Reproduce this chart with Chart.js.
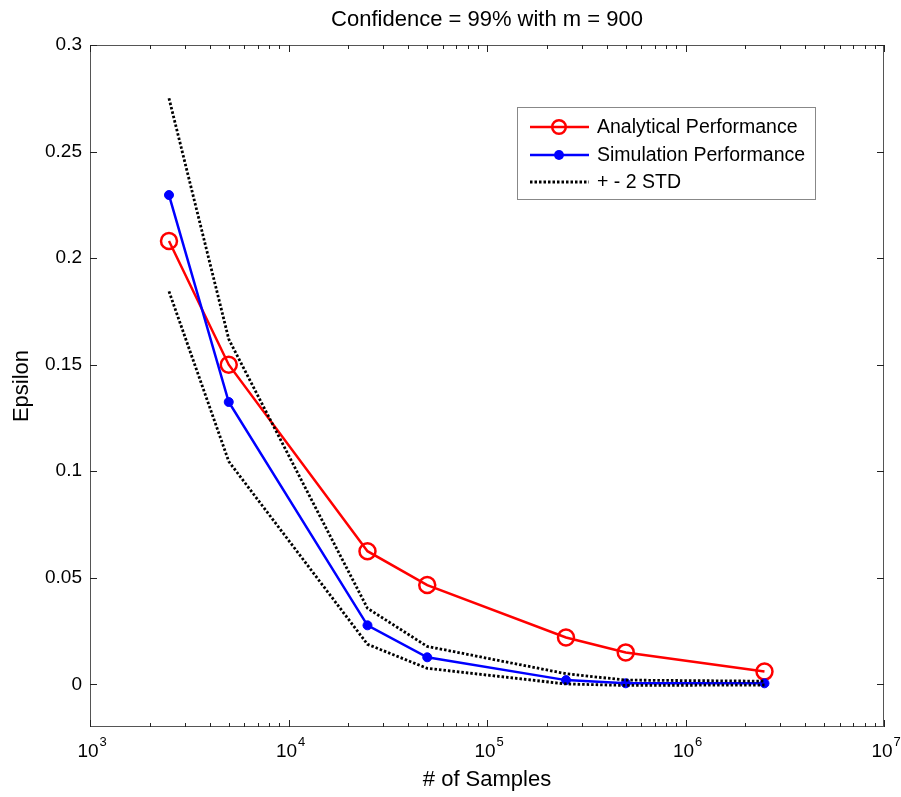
<!DOCTYPE html>
<html>
<head>
<meta charset="utf-8">
<script src="https://cdn.jsdelivr.net/npm/chart.js@4.4.0/dist/chart.umd.min.js"></script>
<style>
html, body { margin: 0; padding: 0; background: #fff; }
</style>
</head>
<body>
<canvas id="myChart" width="901" height="797"></canvas>
<script>
// values
var samples = [2500, 5000, 25000, 50000, 250000, 500000, 2500000];
var analytical = [0.208, 0.150, 0.0625, 0.0466, 0.022, 0.015, 0.006];
var simulation = [0.2296, 0.1325, 0.0277, 0.0127, 0.002, 0.0005, 0.0005];
var upperStd = [0.275, 0.162, 0.0357, 0.0178, 0.005, 0.002, 0.0015];
var lowerStd = [0.1844, 0.1046, 0.0188, 0.0075, 0.0002, -0.0005, -0.0003];

var yTicks = [0, 0.05, 0.1, 0.15, 0.2, 0.25, 0.3];
var yTickLabels = ['0', '0.05', '0.1', '0.15', '0.2', '0.25', '0.3'];
var xDecades = [3, 4, 5, 6, 7];
var legendLabels = ['Analytical Performance', 'Simulation Performance', '+ - 2 STD'];

var FONT = '"Liberation Sans", Arial, Helvetica, sans-serif';

function pts(ys) {
    return samples.map(function (x, i) { return {x: x, y: ys[i]}; });
}

// matlab style box, inward ticks, 10^n labels and legend
var matlabAxes = {
    id: 'matlabAxes',
    afterDatasetsDraw: function (chart) {
        var ctx = chart.ctx, ca = chart.chartArea;
        var xs = chart.scales.x, ys = chart.scales.y;
        ctx.save();
        ctx.strokeStyle = '#555';
        ctx.lineWidth = 1;
        ctx.strokeRect(ca.left + 0.5, ca.top + 0.5, ca.right - ca.left - 1, ca.bottom - ca.top - 1);

        ctx.strokeStyle = '#222';
        ctx.beginPath();
        xDecades.forEach(function (d) {
            for (var m = 1; m <= 9; m++) {
                if (d === 7 && m > 1) break;
                var px = Math.round(xs.getPixelForValue(m * Math.pow(10, d))) + 0.5;
                var len = m === 1 ? 7 : 4;
                ctx.moveTo(px, ca.bottom); ctx.lineTo(px, ca.bottom - len);
                ctx.moveTo(px, ca.top); ctx.lineTo(px, ca.top + len);
            }
        });
        yTicks.forEach(function (v) {
            var py = Math.round(ys.getPixelForValue(v)) + 0.5;
            ctx.moveTo(ca.left, py); ctx.lineTo(ca.left + 7, py);
            ctx.moveTo(ca.right, py); ctx.lineTo(ca.right - 7, py);
        });
        ctx.stroke();

        // x tick labels with superscript exponents
        ctx.fillStyle = '#000';
        ctx.textBaseline = 'alphabetic';
        ctx.textAlign = 'left';
        xDecades.forEach(function (d) {
            var px = xs.getPixelForValue(Math.pow(10, d));
            ctx.font = '19px ' + FONT;
            var wBase = ctx.measureText('10').width;
            var x0 = px - wBase / 2 - 2;
            ctx.fillText('10', x0, 757);
            ctx.font = '13px ' + FONT;
            ctx.fillText(String(d), x0 + wBase + 1, 746);
        });

        // legend
        var lx = ca.right - 367, ly = ca.top + 62, lw = 298, lh = 92;
        ctx.fillStyle = '#fff';
        ctx.fillRect(lx, ly, lw, lh);
        ctx.strokeStyle = '#888';
        ctx.strokeRect(lx + 0.5, ly + 0.5, lw, lh);
        var rows = [ly + 20, ly + 48, ly + 75];
        var dsets = chart.data.datasets;
        [0, 1, 2].forEach(function (k) {
            var ds = dsets[k];
            var y = rows[k];
            ctx.save();
            ctx.strokeStyle = ds.borderColor;
            ctx.lineWidth = ds.borderWidth;
            ctx.setLineDash(ds.borderDash || []);
            ctx.beginPath();
            ctx.moveTo(lx + 13, y); ctx.lineTo(lx + 72, y);
            ctx.stroke();
            ctx.setLineDash([]);
            if (ds.pointRadius > 0) {
                ctx.beginPath();
                ctx.arc(lx + 42, y, ds.pointRadius * (k === 0 ? 0.85 : 1.1), 0, Math.PI * 2);
                if (k === 1) { ctx.fillStyle = ds.pointBackgroundColor; ctx.fill(); }
                else { ctx.lineWidth = ds.pointBorderWidth; ctx.stroke(); }
            }
            ctx.restore();
            ctx.fillStyle = '#000';
            ctx.font = '19.5px ' + FONT;
            ctx.textBaseline = 'middle';
            ctx.fillText(legendLabels[k], lx + 80, y + 1);
        });
        ctx.restore();
    }
};

var ctx = document.getElementById('myChart').getContext('2d');
var myChart = new Chart(ctx, {
    type: 'line',
    data: {
        datasets: [{
            label: legendLabels[0],
            data: pts(analytical),
            borderColor: '#ff0000',
            borderWidth: 2.5,
            pointRadius: 8,
            pointBorderWidth: 2.5,
            pointBorderColor: '#ff0000',
            pointBackgroundColor: 'rgba(0,0,0,0)',
            tension: 0,
            order: 3
        },
        {
            label: legendLabels[1],
            data: pts(simulation),
            borderColor: '#0000ff',
            borderWidth: 2.5,
            pointRadius: 4.5,
            pointBorderWidth: 1,
            pointBorderColor: '#0000ff',
            pointBackgroundColor: '#0000ff',
            tension: 0,
            order: 2
        },
        {
            label: legendLabels[2],
            data: pts(upperStd),
            borderColor: '#000',
            borderWidth: 2.8,
            borderDash: [2.5, 2],
            pointRadius: 0,
            tension: 0,
            order: 1
        },
        {
            label: legendLabels[2] + ' (lower)',
            data: pts(lowerStd),
            borderColor: '#000',
            borderWidth: 2.8,
            borderDash: [2.5, 2],
            pointRadius: 0,
            tension: 0,
            order: 1
        }]
    },
    options: {
        responsive: false,
        animation: false,
        layout: { padding: { left: 0, right: 17, top: 0, bottom: 0 } },
        plugins: {
            legend: { display: false },
            tooltip: { enabled: false },
            title: {
                display: true,
                fullSize: false,
                text: 'Confidence = 99% with m = 900',
                color: '#000',
                font: { family: FONT, size: 22, weight: 'normal' },
                padding: { top: 7, bottom: 11.6 }
            }
        },
        scales: {
            x: {
                type: 'logarithmic',
                position: 'bottom',
                min: 1000,
                max: 10000000,
                grid: { display: false },
                border: { display: false },
                ticks: { display: false },
                title: {
                    display: true,
                    text: '# of Samples',
                    color: '#000',
                    font: { family: FONT, size: 22 },
                    padding: { top: 0, bottom: 4 }
                },
                afterFit: function (s) { s.height = 70; }
            },
            y: {
                type: 'linear',
                min: -0.02,
                max: 0.3,
                afterBuildTicks: function (s) {
                    s.ticks = yTicks.map(function (v) { return {value: v}; });
                },
                grid: { display: false },
                border: { display: false },
                ticks: {
                    color: '#000',
                    padding: 0,
                    font: { family: FONT, size: 19 },
                    callback: function (v, i) { return yTickLabels[i]; }
                },
                title: {
                    display: true,
                    text: 'Epsilon',
                    color: '#000',
                    font: { family: FONT, size: 22 },
                    padding: { top: 9, bottom: 0 }
                },
                afterFit: function (s) { s.width = 90; }
            }
        }
    },
    plugins: [matlabAxes]
});
</script>
</body>
</html>
